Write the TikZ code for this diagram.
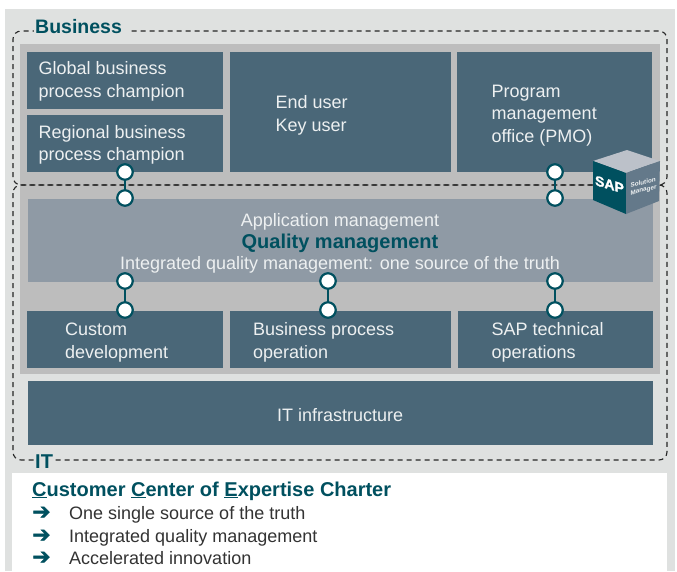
\documentclass[tikz,border=0pt]{standalone}
\usepackage{fontspec}
\setmainfont{Liberation Sans}
\newfontfamily\symfont{DejaVu Sans}[RawFeature={embolden=1.6}]
\newfontfamily\sapfont{Liberation Sans}[BoldFont={Liberation Sans Bold},BoldFeatures={RawFeature={embolden=1.5}}]
\usetikzlibrary{calc}
\definecolor{outerbg}{HTML}{DFE1E0}
\definecolor{midbg}{HTML}{BDBDBD}
\definecolor{boxcol}{HTML}{4A6778}
\definecolor{appcol}{HTML}{8F9AA5}
\definecolor{tealcol}{HTML}{00505F}
\definecolor{txtcol}{HTML}{EDF0F1}
\definecolor{bodycol}{HTML}{333333}
\definecolor{cubetop}{HTML}{BCC1C9}
\definecolor{cuberight}{HTML}{64798A}
\tikzset{
  panel/.style={anchor=north west,draw=none,inner sep=0pt,outer sep=0pt},
  lbl/.style={anchor=base west,inner sep=0pt,text=txtcol,font=\fontsize{18}{20}\selectfont},
  clbl/.style={anchor=base,inner sep=0pt,text=txtcol,font=\fontsize{18}{20}\selectfont},
  title/.style={anchor=base west,inner sep=0pt,text=tealcol,font=\fontsize{20}{22}\selectfont\bfseries},
  body/.style={anchor=base west,inner sep=0pt,text=bodycol,font=\fontsize{18}{20}\selectfont},
  bullet/.style={anchor=base west,inner sep=0pt,text=tealcol,font=\fontsize{22}{22}\selectfont\symfont},
  port/.style={circle,draw=tealcol,fill=white,line width=2.2pt,minimum size=15.5pt,inner sep=0pt,outer sep=0pt},
  link/.style={draw=tealcol,line width=2pt},
  zone/.style={draw=black!85,line width=1.1pt,dash pattern=on 5pt off 4pt,rounded corners=8pt},
  gapfill/.style={fill=outerbg,draw=none,inner sep=0pt,outer sep=0pt}
}
\newcommand{\boxnode}[7]{\node[panel,fill=#6,minimum width=#4pt,minimum height=#5pt] (#1) at (#2,#3) {#7};}
\begin{document}
\begin{tikzpicture}[x=1pt,y=-1pt]
\useasboundingbox (0,0) rectangle (677,571);
% backgrounds
\boxnode{outer}{5}{9}{670}{562}{outerbg}{}
\boxnode{mid}{20}{44}{640}{330}{midbg}{}
\boxnode{charter}{12}{473}{655}{98}{white}{}
% boxes
\boxnode{global}{27}{52}{196}{57}{boxcol}{}
\boxnode{regional}{27}{115}{196}{57}{boxcol}{}
\boxnode{enduser}{230}{52}{221}{120}{boxcol}{}
\boxnode{pmo}{457}{52}{195}{120}{boxcol}{}
\boxnode{app}{28}{199}{625}{83}{appcol}{}
\boxnode{custom}{27}{311}{196}{57}{boxcol}{}
\boxnode{bpo}{230}{311}{221}{57}{boxcol}{}
\boxnode{tech}{458}{311}{195}{57}{boxcol}{}
\boxnode{infra}{28}{381}{625}{64}{boxcol}{}
% dashed zones
\draw[zone] (13,185) rectangle (667,31);
\draw[zone] (13,185) rectangle (667,460);
\node[gapfill,minimum width=97pt,minimum height=5pt] (busgap) at (82.5,31) {};
\node[gapfill,minimum width=18pt,minimum height=5pt] (itgap) at (43.5,460) {};
% box labels
\node[lbl] (t1a) at (38.5,74) {Global business};
\node[lbl] (t1b) at (38.5,97) {process champion};
\node[lbl] (t2a) at (38.5,138) {Regional business};
\node[lbl] (t2b) at (38.5,160) {process champion};
\node[lbl] (t3a) at (275.5,108) {End user};
\node[lbl] (t3b) at (275.5,131) {Key user};
\node[lbl] (t4a) at (491.5,97) {Program};
\node[lbl] (t4b) at (491.5,119) {management};
\node[lbl] (t4c) at (491.5,142) {office (PMO)};
\node[clbl] (t5a) at (340,226) {Application management};
\node[clbl,text=tealcol,font=\fontsize{20}{22}\selectfont\bfseries] (t5b) at (340,248) {Quality management};
\node[clbl] (t5c) at (340,269) {Integrated quality management: one source of the truth};
\node[lbl] (t6a) at (65,335) {Custom};
\node[lbl] (t6b) at (65,358) {development};
\node[lbl] (t7a) at (253,335) {Business process};
\node[lbl] (t7b) at (253,358) {operation};
\node[lbl] (t8a) at (491.5,335) {SAP technical};
\node[lbl] (t8b) at (491.5,358) {operations};
\node[lbl] (t9) at (277,421) {IT infrastructure};
% ports
\node[port] (p1) at (125,172) {};
\node[port] (p2) at (125,198) {};
\node[port] (p3) at (555,172) {};
\node[port] (p4) at (555,198) {};
\node[port] (p5) at (125,281) {};
\node[port] (p6) at (125,310) {};
\node[port] (p7) at (328,281) {};
\node[port] (p8) at (328,310) {};
\node[port] (p9) at (555,281) {};
\node[port] (p10) at (555,310) {};
\draw[link] (p1) -- (p2);
\draw[link] (p3) -- (p4);
\draw[link] (p5) -- (p6);
\draw[link] (p7) -- (p8);
\draw[link] (p9) -- (p10);
% cube
\fill[cubetop] (593,161) -- (627,150) -- (660,161) -- (626,173) -- cycle;
\fill[tealcol] (593,161) -- (626,173) -- (626,214) -- (593,200) -- cycle;
\fill[cuberight] (626,173) -- (660,161) -- (659,201) -- (626,214) -- cycle;
\node[anchor=center,inner sep=0pt,text=white,yslant=-0.3,font=\fontsize{14}{15}\selectfont\sapfont\bfseries] (sap) at (609.5,184.5) {SAP};
\node[anchor=center,inner sep=0pt,text=txtcol,yslant=0.25,align=left,font=\fontsize{6.3}{7.5}\selectfont\bfseries] (solman) at (643.5,186.5) {Solution\\Manager};
% titles
\node[title,font=\fontsize{19.5}{22}\selectfont\bfseries] (business) at (35,33) {Business};
\node[title] (it) at (35,468) {IT};
\node[title] (ccoe) at (32,496) {\underline{C}ustomer \underline{C}enter of \underline{E}xpertise Charter};
\node[bullet] (b1) at (32,519) {➔};
\node[bullet] (b2) at (32,542) {➔};
\node[bullet] (b3) at (32,564) {➔};
\node[body] (c1) at (69,519) {One single source of the truth};
\node[body] (c2) at (69,542) {Integrated quality management};
\node[body] (c3) at (69,564) {Accelerated innovation};
\end{tikzpicture}
\end{document}
